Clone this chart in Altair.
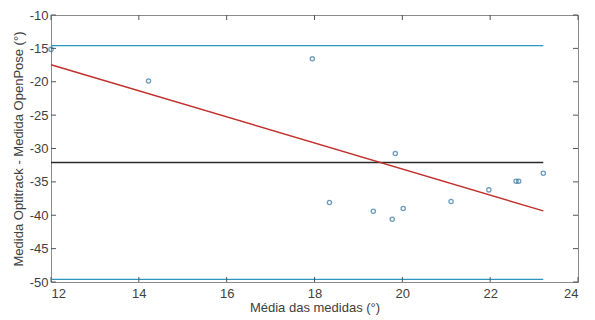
import altair as alt
import pandas as pd

# data
media = [12.0, 14.22, 17.95, 19.84, 18.34, 19.34, 19.77, 20.02, 21.11, 21.97, 22.59, 22.65, 23.21]
diff = [-15.15, -19.9, -16.55, -30.75, -38.1, -39.4, -40.6, -39.0, -37.95, -36.2, -34.9, -34.9, -33.7]

line_x_start = 12.0
line_x_end = 23.21
mean_diff = -32.1
upper_loa = -14.6
lower_loa = -49.6

reg_x = [12.0, 23.21]
reg_y = [-17.45, -39.35]

x_ticks = [12, 14, 16, 18, 20, 22, 24]
y_ticks = [-50, -45, -40, -35, -30, -25, -20, -15, -10]

W, H = 527, 267
FONT = "Liberation Sans"

pts = pd.DataFrame({"x": media, "y": diff})
hlines = pd.DataFrame({
    "x": [line_x_start] * 3,
    "x2": [line_x_end] * 3,
    "y": [upper_loa, mean_diff, lower_loa],
    "kind": ["upper", "mean", "lower"],
})
reg = pd.DataFrame({"x": reg_x, "y": reg_y})
xt = pd.DataFrame({"x": x_ticks})
yt = pd.DataFrame({"y": y_ticks})

xscale = alt.Scale(domain=[12, 24], nice=False, zero=False)
yscale = alt.Scale(domain=[-50, -10], nice=False, zero=False)

xaxis = alt.Axis(values=x_ticks, title="Média das medidas (°)", tickSize=0, grid=False,
                 labelFont=FONT, labelFontSize=13, labelColor="#404040", labelPadding=5,
                 labelOverlap=False, labelExpr="replace(datum.label, '\u2212', '-')",
                 titleFont=FONT, titleFontSize=13, titleColor="#404040", titleFontWeight="normal",
                 titlePadding=1, domainColor="#8a8a8a")
yaxis = alt.Axis(values=y_ticks, title="Medida Optitrack - Medida OpenPose (°)", tickSize=0, grid=False,
                 labelFont=FONT, labelFontSize=13, labelColor="#404040", labelPadding=3,
                 labelOverlap=False, labelExpr="replace(datum.label, '\u2212', '-')",
                 titleFont=FONT, titleFontSize=13, titleColor="#404040", titleFontWeight="normal",
                 titlePadding=4, domainColor="#8a8a8a")

X = alt.X("x:Q", scale=xscale, axis=xaxis)
Y = alt.Y("y:Q", scale=yscale, axis=yaxis)

lines = alt.Chart(hlines).mark_rule(strokeWidth=1.3).encode(
    x=X, x2="x2:Q", y=Y,
    color=alt.Color("kind:N", scale=alt.Scale(domain=["upper", "mean", "lower"],
                                               range=["#2a96bf", "#2b2b2b", "#2a96bf"]), legend=None),
)

regline = alt.Chart(reg).mark_line(color="#c0302c", strokeWidth=1.4).encode(x=X, y=Y)

points = alt.Chart(pts).mark_point(shape="circle", size=18, strokeWidth=1.3, color="#2f74a3",
                                   filled=False).encode(x=X, y=Y)

tick_color = "#555555"
bot_ticks = alt.Chart(xt).mark_rule(color=tick_color, strokeWidth=1).encode(
    x=X, y=alt.value(H), y2=alt.value(H - 5))
top_ticks = alt.Chart(xt).mark_rule(color=tick_color, strokeWidth=1).encode(
    x=X, y=alt.value(0), y2=alt.value(5))
left_ticks = alt.Chart(yt).mark_rule(color=tick_color, strokeWidth=1).encode(
    y=Y, x=alt.value(0), x2=alt.value(5))
right_ticks = alt.Chart(yt).mark_rule(color=tick_color, strokeWidth=1).encode(
    y=Y, x=alt.value(W), x2=alt.value(W - 5))

chart = alt.layer(lines, regline, points, bot_ticks, top_ticks, left_ticks, right_ticks).properties(
    width=W, height=H,
    autosize=alt.AutoSizeParams(type="none"),
    padding={"left": 51, "top": 15, "right": 17, "bottom": 38},
    background="white",
).configure_view(stroke="#8a8a8a", strokeWidth=1)

chart.save("out.html", embed_options={"renderer": "svg", "actions": False})
